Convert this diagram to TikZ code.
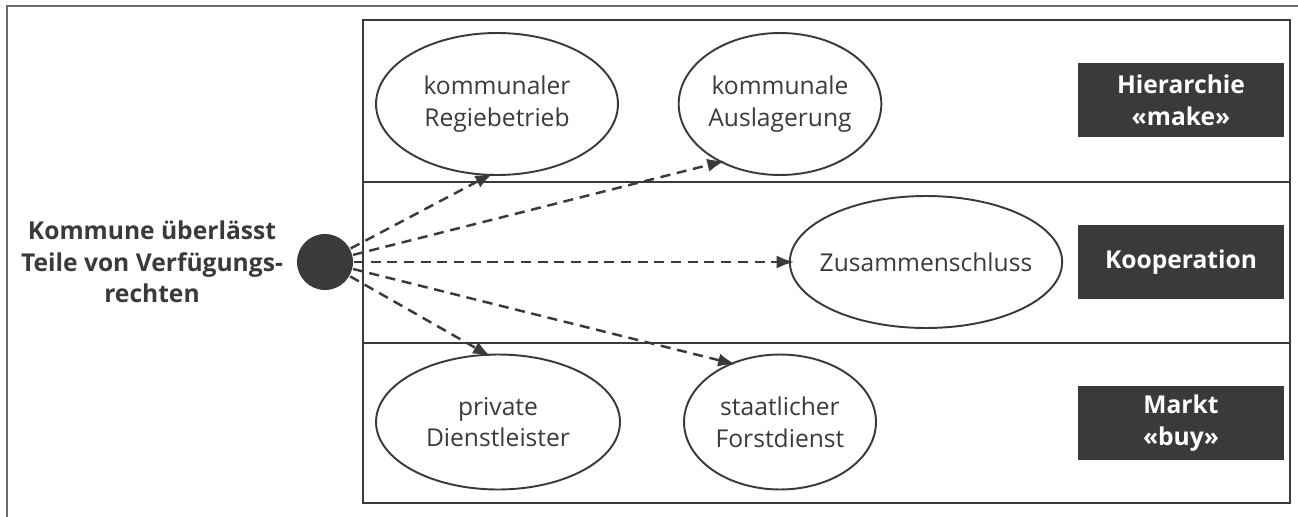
\documentclass[tikz,border=0pt]{standalone}
\usepackage{fontspec}
\setmainfont{Open Sans}
\usetikzlibrary{shapes.geometric,arrows.meta}
\definecolor{ink}{HTML}{3A3A3A}

\begin{document}
\begin{tikzpicture}[x=0.02cm,y=-0.02cm,color=ink,line width=1.1pt,
   form/.style={ellipse,draw,inner sep=0pt,align=center,
      font=\fontsize{14}{18}\selectfont},
   tag/.style={fill=ink,text=white,align=center,inner sep=0pt,
      minimum width=4.12cm,minimum height=1.47cm,
      font=\bfseries\fontsize{14}{18}\selectfont},
   flow/.style={line width=1.4pt,dash pattern=on 5.7pt off 3.8pt,
      -{Latex[length=10pt,width=7.5pt]},shorten >=-3pt}]
       \useasboundingbox (0,0) rectangle (1298,517);
       % frame and the three rows
       \draw[line width=0.9pt,ink!75] (7,517) -- (7,6) -- (1298,6);
       \draw (363,20) rectangle (1290,503);
       \draw (363,182) -- (1290,182);
       \draw (363,343) -- (1290,343);
       % the commune
       \node[circle,fill=ink,minimum size=1.12cm,inner sep=0pt] (hub) at (325,262) {};
       \node[align=center,font=\bfseries\fontsize{14}{18}\selectfont] (who) at (152,262)
          {Kommune überlässt\\Teile von Verfügungs-\\rechten};
       % forms
       \node[form,minimum width=4.84cm,minimum height=2.84cm] (regie) at (497,104)
          {kommunaler\\Regiebetrieb};
       \node[form,minimum width=3.84cm,minimum height=2.84cm] (ausl) at (780,104)
          {kommunale\\Auslagerung};
       \node[form,inner xsep=-0.2cm,minimum width=5.36cm,minimum height=2.64cm] (zus) at (926,262)
          {Zusammenschluss};
       \node[form,minimum width=4.88cm,minimum height=2.7cm] (dienst) at (498,422)
          {private\\Dienstleister};
       \node[form,minimum width=3.84cm,minimum height=2.7cm] (forst) at (780,422)
          {staatlicher\\Forstdienst};
       % row labels
       \node[tag] (make) at (1181,100) {Hierarchie\\«make»};
       \node[tag] (koop) at (1181,262) {Kooperation};
       \node[tag] (buy) at (1181,423) {Markt\\«buy»};
       % arrows
       \draw[flow] (hub) -- (regie.-97);
       \draw[flow] (hub) -- (ausl.-136);
       \draw[flow] (hub) -- (zus.west);
       \draw[flow] (hub) -- (dienst.100);
       \draw[flow] (hub) -- (forst.130);
\end{tikzpicture}
\end{document}
